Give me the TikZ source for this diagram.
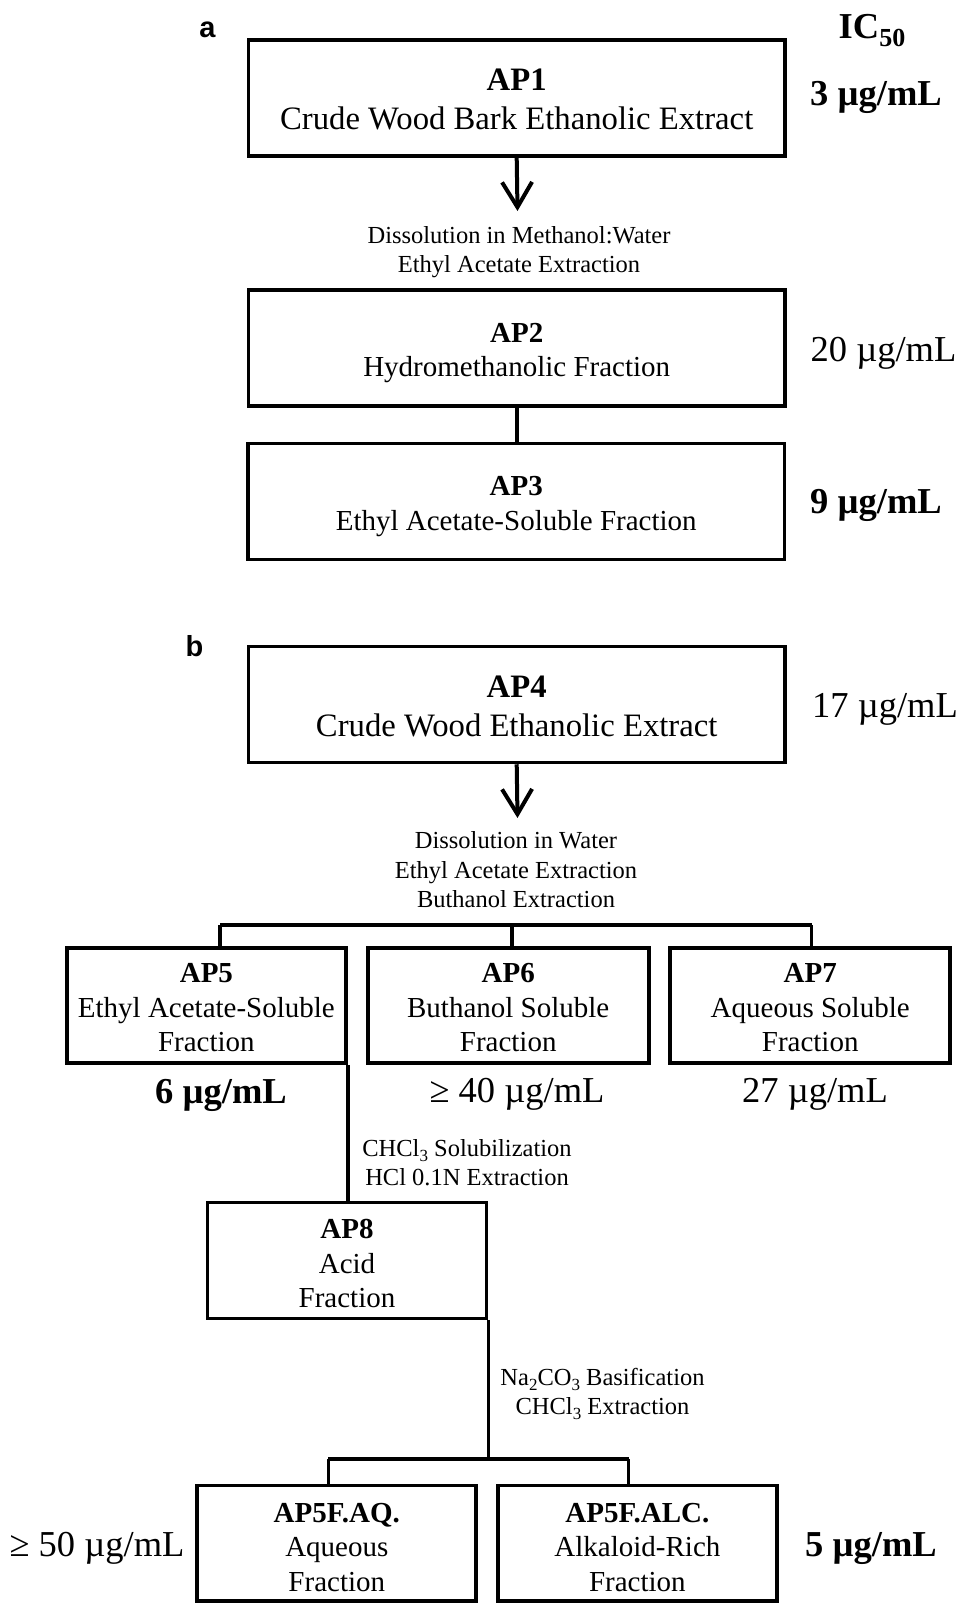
\documentclass[tikz,border=0pt]{standalone}
\usepackage{fontspec}
\setmainfont{Liberation Serif}
\newfontfamily\labsans{Liberation Sans}
\usetikzlibrary{arrows.meta}
\newcommand\mysub[1]{\raisebox{-0.45ex}{\fontsize{17}{17}\selectfont #1}}
\newcommand\toppad[1]{\rule{0pt}{#1}}
\begin{document}
\begin{tikzpicture}[x=1pt,y=-1pt,
  box/.style={draw, line width=3.7pt, inner sep=0pt, align=center},
  wide/.style={box, minimum width=536.5pt, minimum height=116pt},
  small/.style={box, minimum width=279pt, minimum height=115.5pt, font=\fontsize{29}{34.5}\selectfont},
  big/.style={font=\fontsize{32.7}{39}\selectfont},
  mid/.style={font=\fontsize{29}{34.5}\selectfont},
  proc/.style={align=center, inner sep=0pt, font=\fontsize{24.5}{29.6}\selectfont},
  ic/.style={inner sep=0pt, font=\fontsize{36.5}{40}\selectfont},
  conn/.style={line width=3.7pt},
  arr/.style={line width=4pt, -{Straight Barb[length=25pt,width=30pt]}},
  panel/.style={inner sep=0pt, font=\labsans\bfseries\fontsize{29}{29}\selectfont}]
\useasboundingbox (0,0) rectangle (961,1603);

% panel a
\node[panel] (pa) at (207.5,30) {a};
\node[ic] (ic50) at (872,30.5) {\textbf{IC\raisebox{-8pt}{\fontsize{26}{26}\selectfont 50}}};

\node[wide, big] (ap1) at (516.7,98) {\textbf{AP1}\toppad{24pt}\\Crude Wood Bark Ethanolic Extract};
\node[ic] (v1) at (876,97) {\textbf{3 µg/mL}};
\coordinate (t1) at (517.5,211);
\draw[arr] (ap1.south) -- (t1);
\node[proc] (s1) at (519,252) {Dissolution in Methanol:Water\\Ethyl Acetate Extraction};

\node[wide, mid] (ap2) at (516.7,348) {\textbf{AP2}\toppad{29pt}\\Hydromethanolic Fraction};
\node[ic] (v2) at (883.5,353) {20 µg/mL};
\node[wide, mid] (ap3) at (516.2,501.5) {\textbf{AP3}\toppad{29pt}\\Ethyl Acetate-Soluble Fraction};
\node[ic] (v3) at (876,505) {\textbf{9 µg/mL}};
\draw[conn] (ap2.south) -- (ap2.south |- ap3.north);

% panel b
\node[panel] (pb) at (194.5,646.5) {b};
\node[wide, big] (ap4) at (516.7,704.4) {\textbf{AP4}\toppad{26pt}\\Crude Wood Ethanolic Extract};
\node[ic] (v4) at (885,709) {17 µg/mL};
\coordinate (t2) at (517.5,818);
\draw[arr] (ap4.south) -- (t2);
\node[proc] (s2) at (516,870) {Dissolution in Water\\Ethyl Acetate Extraction\\Buthanol Extraction};

\node[small] (ap5) at (206.4,1005.5) {\textbf{AP5}\toppad{24pt}\\Ethyl Acetate-Soluble\\Fraction};
\node[small, minimum width=281pt] (ap6) at (508.2,1005.5) {\textbf{AP6}\toppad{24pt}\\Buthanol Soluble\\Fraction};
\node[small, minimum width=280pt] (ap7) at (810.2,1005.5) {\textbf{AP7}\toppad{24pt}\\Aqueous Soluble\\Fraction};
\coordinate (b5) at (220,925);
\coordinate (b6) at (512.3,925);
\coordinate (b7) at (811.5,925);
\draw[conn] (b5) -- (b7);
\draw[conn] (b5) -- (b5 |- ap5.north);
\draw[conn] (b6) -- (b6 |- ap6.north);
\draw[conn] (b7) -- (b7 |- ap7.north);

\node[ic] (v5) at (221,1095) {\textbf{6 µg/mL}};
\node[ic] (v6) at (517,1094) {≥ 40 µg/mL};
\node[ic] (v7) at (815,1094) {27 µg/mL};

\node[proc] (s3) at (467,1162.5) {CHCl\mysub{3} Solubilization\\HCl 0.1N Extraction};
\node[small, minimum height=116pt] (ap8) at (347,1260.5) {\textbf{AP8}\toppad{26pt}\\Acid\\Fraction};
\draw[conn] (ap5.south east) -- (ap5.south east |- ap8.north);

\node[proc] (s4) at (602.5,1394) {Na\mysub{2}CO\mysub{3} Basification\\CHCl\mysub{3} Extraction};
\coordinate (c8) at (ap8.south east |- 0,1458.8);
\coordinate (bq) at (328.4,1458.8);
\coordinate (bl) at (628.5,1458.8);
\draw[conn] (ap8.south east) -- (c8);
\draw[conn] (bq) -- (bl);

\node[small] (aq) at (336.8,1543.2) {\textbf{AP5F.AQ.}\toppad{27pt}\\Aqueous\\Fraction};
\node[small] (alc) at (637.4,1543.2) {\textbf{AP5F.ALC.}\toppad{27pt}\\Alkaloid-Rich\\Fraction};
\draw[conn] (bq) -- (bq |- aq.north);
\draw[conn] (bl) -- (bl |- alc.north);

\node[ic] (v8) at (97,1548) {≥ 50 µg/mL};
\node[ic] (v9) at (871,1548) {\textbf{5 µg/mL}};
\end{tikzpicture}
\end{document}
